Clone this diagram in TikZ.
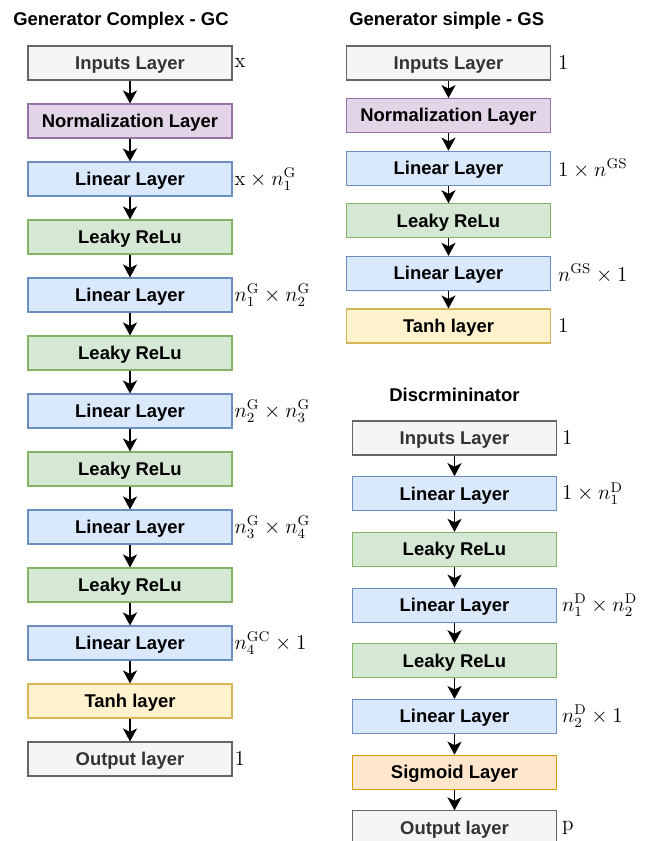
\documentclass[tikz,border=0pt]{standalone}
\usepackage{amsmath, amssymb}
\usepackage{fontspec}
\newfontfamily\layerfont{Liberation Sans}
\usepackage{tikz}
\usetikzlibrary{positioning, arrows.meta}
\usepackage{xcolor}

\definecolor{inpfill}{HTML}{F5F5F5}
\definecolor{inpdraw}{HTML}{666666}
\definecolor{inptext}{HTML}{333333}
\definecolor{normfill}{HTML}{E1D5E7}
\definecolor{normdraw}{HTML}{9673A6}
\definecolor{linfill}{HTML}{DAE8FC}
\definecolor{lindraw}{HTML}{6C8EBF}
\definecolor{relufill}{HTML}{D5E8D4}
\definecolor{reludraw}{HTML}{82B366}
\definecolor{tanhfill}{HTML}{FFF2CC}
\definecolor{tanhdraw}{HTML}{D6B656}
\definecolor{sigfill}{HTML}{FFE6CC}
\definecolor{sigdraw}{HTML}{D79B00}

\begin{document}
\begin{tikzpicture}[x=0.02cm, y=-0.02cm,
    layer/.style={draw, line width=0.6pt, minimum width=4.08cm, minimum height=0.68cm,
        inner sep=0pt, text height=0.72em, text depth=0pt,
        font=\layerfont\fontsize{10.5}{12}\selectfont\bfseries},
    inplayer/.style={layer, fill=inpfill, draw=inpdraw, text=inptext},
    normlayer/.style={layer, fill=normfill, draw=normdraw},
    linlayer/.style={layer, fill=linfill, draw=lindraw},
    relulayer/.style={layer, fill=relufill, draw=reludraw},
    tanhlayer/.style={layer, fill=tanhfill, draw=tanhdraw},
    siglayer/.style={layer, fill=sigfill, draw=sigdraw},
    dims/.style={anchor=west, inner sep=1pt, font=\fontsize{12}{14}\selectfont},
    heading/.style={anchor=west, inner sep=0pt, font=\layerfont\fontsize{10.5}{12}\selectfont\bfseries},
    flow/.style={-{Stealth[length=2.6mm, width=2.8mm, inset=0.7mm]}, line width=1.1pt}]

    \clip (0,0) rectangle (652,841);

    % Left column - Generator Complex
    \begin{scope}
        \node[heading] (gctitle) at (13,21) {Generator Complex - GC};
        % Draw the layers
        \foreach \i/\kind/\txt in {0/inplayer/Inputs Layer, 1/normlayer/Normalization Layer,
            2/linlayer/Linear Layer, 3/relulayer/Leaky ReLu, 4/linlayer/Linear Layer,
            5/relulayer/Leaky ReLu, 6/linlayer/Linear Layer, 7/relulayer/Leaky ReLu,
            8/linlayer/Linear Layer, 9/relulayer/Leaky ReLu, 10/linlayer/Linear Layer,
            11/tanhlayer/Tanh layer, 12/inplayer/Output layer} {
            \node[\kind] (gc\i) at (130,{63+58*\i}) {\txt};
        }
        % Draw arrows
        \foreach \i in {0,...,11} {
            \pgfmathtruncatemacro{\next}{\i+1}
            \draw[flow] (gc\i) -- (gc\next);
        }
        % Sizes
        \node[dims] (gcd0) at (gc0.east) {$\mathrm{x}$};
        \node[dims] (gcd2) at (gc2.east) {$\mathrm{x}\times n_1^{\mathrm{G}}$};
        \node[dims] (gcd4) at (gc4.east) {$n_1^{\mathrm{G}}\times n_2^{\mathrm{G}}$};
        \node[dims] (gcd6) at (gc6.east) {$n_2^{\mathrm{G}}\times n_3^{\mathrm{G}}$};
        \node[dims] (gcd8) at (gc8.east) {$n_3^{\mathrm{G}}\times n_4^{\mathrm{G}}$};
        \node[dims] (gcd10) at (gc10.east) {$n_4^{\mathrm{GC}}\times 1$};
        \node[dims] (gcd12) at (gc12.east) {$1$};
    \end{scope}

    % Right column top - Generator simple
    \begin{scope}
        \node[heading] (gstitle) at (349,21) {Generator simple - GS};
        \foreach \i/\kind/\txt in {0/inplayer/Inputs Layer, 1/normlayer/Normalization Layer,
            2/linlayer/Linear Layer, 3/relulayer/Leaky ReLu, 4/linlayer/Linear Layer,
            5/tanhlayer/Tanh layer} {
            \node[\kind] (gs\i) at (448.5,{63+52.6*\i}) {\txt};
        }
        \foreach \i in {0,...,4} {
            \pgfmathtruncatemacro{\next}{\i+1}
            \draw[flow] (gs\i) -- (gs\next);
        }
        % Sizes
        \node[dims, xshift=0.1cm] (gsd0) at (gs0.east) {$1$};
        \node[dims, xshift=0.1cm] (gsd2) at (gs2.east) {$1\times n^{\mathrm{GS}}$};
        \node[dims, xshift=0.1cm] (gsd4) at (gs4.east) {$n^{\mathrm{GS}}\times 1$};
        \node[dims, xshift=0.1cm] (gsd5) at (gs5.east) {$1$};
    \end{scope}

    % Right column bottom - Discriminator
    \begin{scope}
        \node[heading] (dtitle) at (389,395) {Discrmininator};
        \foreach \i/\kind/\txt in {0/inplayer/Inputs Layer, 1/linlayer/Linear Layer,
            2/relulayer/Leaky ReLu, 3/linlayer/Linear Layer, 4/relulayer/Leaky ReLu,
            5/linlayer/Linear Layer, 6/siglayer/Sigmoid Layer, 7/inplayer/Output layer} {
            \node[\kind] (d\i) at (454.5,{438+55.7*\i}) {\txt};
        }
        \foreach \i in {0,...,6} {
            \pgfmathtruncatemacro{\next}{\i+1}
            \draw[flow] (d\i) -- (d\next);
        }
        % Sizes
        \node[dims, xshift=0.06cm] (dd0) at (d0.east) {$1$};
        \node[dims, xshift=0.06cm] (dd1) at (d1.east) {$1\times n_1^{\mathrm{D}}$};
        \node[dims, xshift=0.06cm] (dd3) at (d3.east) {$n_1^{\mathrm{D}}\times n_2^{\mathrm{D}}$};
        \node[dims, xshift=0.06cm] (dd5) at (d5.east) {$n_2^{\mathrm{D}}\times 1$};
        \node[dims, xshift=0.06cm] (dd7) at (d7.east) {$\mathrm{p}$};
    \end{scope}
\end{tikzpicture}
\end{document}
